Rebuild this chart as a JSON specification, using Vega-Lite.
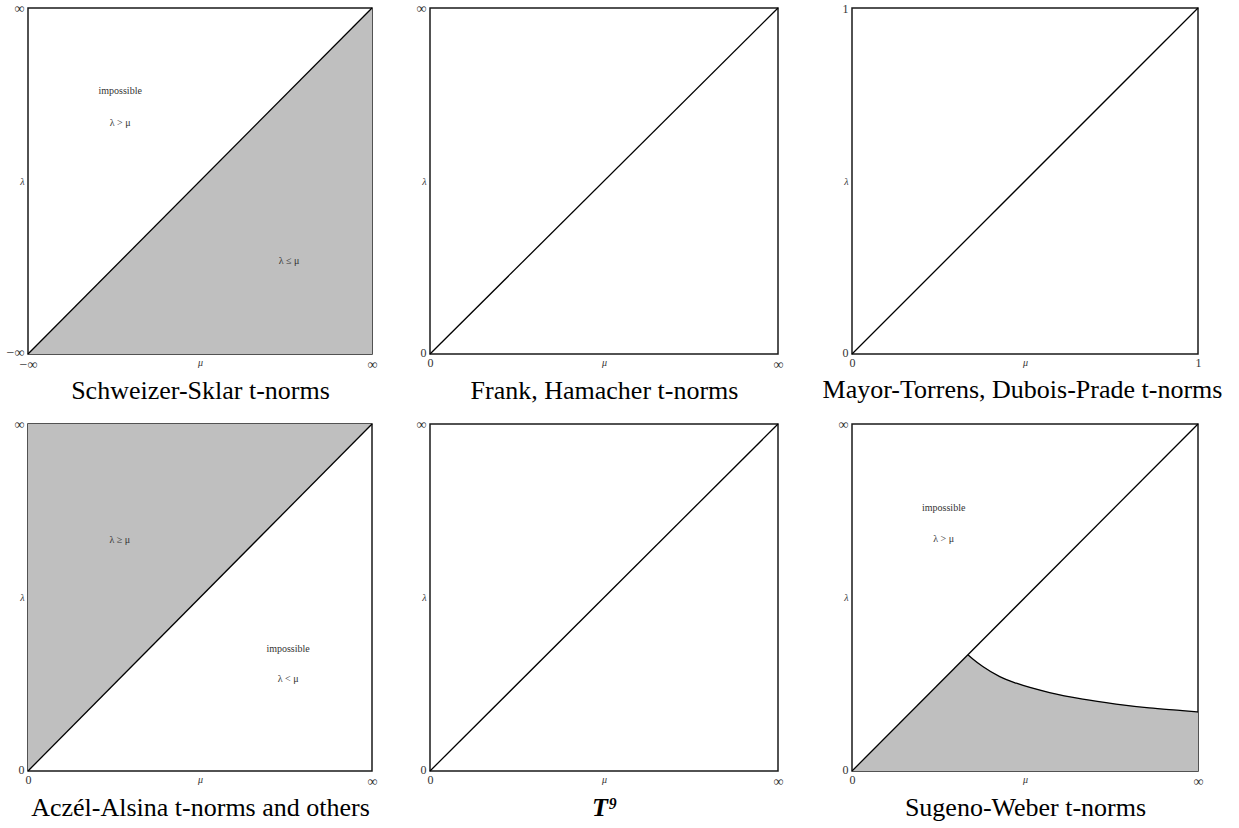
{
  "$schema": "https://vega.github.io/schema/vega-lite/v6.json",
  "background": "white",
  "padding": {"left": 5, "top": 0, "right": 0, "bottom": 0},
  "columns": 3,
  "align": "each",
  "spacing": {"row": 12, "column": 37},
  "config": {
    "view": {"stroke": "#1a1a1a", "strokeWidth": 1.5},
    "axis": {
      "ticks": false, "domain": false, "grid": false,
      "labelFlush": false, "labelOverlap": false,
      "labelFont": "Liberation Serif",
      "labelFontSize": {"condition": [{"test": "datum.value == 0.5", "value": 10}, {"test": "datum.value == 1", "value": 14}], "value": 12},
      "labelFontStyle": {"condition": {"test": "datum.value == 0.5", "value": "italic"}, "value": "normal"},
      "labelColor": "#333", "labelPadding": 3,
      "titleFont": "Liberation Serif", "titleFontSize": 26, "titleFontWeight": "normal",
      "titleColor": "black", "titlePadding": 6
    },
    "axisY": {"labelPadding": 4, "labelOffset": {"condition": {"test": "datum.value == 0", "value": -2}, "value": 0}}
  },
  "datasets": {
    "diag": [{"mu": 0, "lam": 0}, {"mu": 1, "lam": 1}],
    "below": [{"mu": 0, "lam": 0, "base": 0}, {"mu": 1, "lam": 1, "base": 0}],
    "above": [{"mu": 0, "lam": 1, "base": 0}, {"mu": 1, "lam": 1, "base": 1}],
    "sw": [
      {"mu": 0, "lam": 0, "base": 0},
      {"mu": 0.335, "lam": 0.335, "base": 0},
      {"mu": 0.35, "lam": 0.322, "base": 0},
      {"mu": 0.378, "lam": 0.301, "base": 0},
      {"mu": 0.427, "lam": 0.272, "base": 0},
      {"mu": 0.475, "lam": 0.253, "base": 0},
      {"mu": 0.571, "lam": 0.226, "base": 0},
      {"mu": 0.667, "lam": 0.207, "base": 0},
      {"mu": 0.763, "lam": 0.193, "base": 0},
      {"mu": 0.859, "lam": 0.182, "base": 0},
      {"mu": 0.955, "lam": 0.174, "base": 0},
      {"mu": 1, "lam": 0.17, "base": 0}
    ],
    "labels": [
      {"p": 1, "mu": 0.268, "lam": 0.759, "t": "impossible"},
      {"p": 1, "mu": 0.268, "lam": 0.668, "t": "λ > μ"},
      {"p": 1, "mu": 0.759, "lam": 0.268, "t": "λ ≤ μ"},
      {"p": 4, "mu": 0.267, "lam": 0.667, "t": "λ ≥ μ"},
      {"p": 4, "mu": 0.756, "lam": 0.353, "t": "impossible"},
      {"p": 4, "mu": 0.756, "lam": 0.264, "t": "λ < μ"},
      {"p": 6, "mu": 0.265, "lam": 0.758, "t": "impossible"},
      {"p": 6, "mu": 0.265, "lam": 0.669, "t": "λ > μ"}
    ]
  },
  "concat": [
    {
      "width": 344, "height": 346,
      "encoding": {
        "x": {"field": "mu", "type": "quantitative", "scale": {"domain": [0, 1], "nice": false, "zero": false},
              "axis": {"values": [0, 0.5, 1], "labelExpr": "datum.value == 0 ? '−∞' : datum.value == 1 ? '∞' : 'μ'", "title": "Schweizer-Sklar t-norms",
                       "labelFontSize": {"condition": {"test": "datum.value == 0.5", "value": 10}, "value": 14}}},
        "y": {"field": "lam", "type": "quantitative", "scale": {"domain": [0, 1], "nice": false, "zero": false},
              "axis": {"values": [0, 0.5, 1], "labelExpr": "datum.value == 0 ? '−∞' : datum.value == 1 ? '∞' : 'λ'", "title": null,
                       "labelFontSize": {"condition": {"test": "datum.value == 0.5", "value": 10}, "value": 14}}}
      },
      "layer": [
        {"data": {"name": "below"}, "mark": {"type": "area", "color": "#bfbfbf"}, "encoding": {"y2": {"field": "base"}}},
        {"data": {"name": "diag"}, "mark": {"type": "line", "color": "black", "strokeWidth": 1.3}, "encoding": {}},
        {"data": {"name": "labels"}, "transform": [{"filter": "datum.p == 1"}],
         "mark": {"type": "text", "font": "Liberation Serif", "fontSize": 10, "color": "#333"}, "encoding": {"text": {"field": "t"}}}
      ]
    },
    {
      "width": 348, "height": 346,
      "encoding": {
        "x": {"field": "mu", "type": "quantitative", "scale": {"domain": [0, 1], "nice": false, "zero": false},
              "axis": {"values": [0, 0.5, 1], "labelExpr": "datum.value == 0 ? '0' : datum.value == 1 ? '∞' : 'μ'", "title": "Frank, Hamacher t-norms"}},
        "y": {"field": "lam", "type": "quantitative", "scale": {"domain": [0, 1], "nice": false, "zero": false},
              "axis": {"values": [0, 0.5, 1], "labelExpr": "datum.value == 0 ? '0' : datum.value == 1 ? '∞' : 'λ'", "title": null}}
      },
      "layer": [
        {"data": {"name": "diag"}, "mark": {"type": "line", "color": "black", "strokeWidth": 1.3}, "encoding": {}}
      ]
    },
    {
      "width": 346, "height": 346,
      "encoding": {
        "x": {"field": "mu", "type": "quantitative", "scale": {"domain": [0, 1], "nice": false, "zero": false},
              "axis": {"values": [0, 0.5, 1], "labelExpr": "datum.value == 0 ? '0' : datum.value == 1 ? '1' : 'μ'", "title": "Mayor-Torrens, Dubois-Prade t-norms", "titleX": 170, "titlePadding": 8,
                       "labelFontSize": {"condition": {"test": "datum.value == 0.5", "value": 10}, "value": 12}}},
        "y": {"field": "lam", "type": "quantitative", "scale": {"domain": [0, 1], "nice": false, "zero": false},
              "axis": {"values": [0, 0.5, 1], "labelExpr": "datum.value == 0 ? '0' : datum.value == 1 ? '1' : 'λ'", "title": null,
                       "labelFontSize": {"condition": {"test": "datum.value == 0.5", "value": 10}, "value": 12}}}
      },
      "layer": [
        {"data": {"name": "diag"}, "mark": {"type": "line", "color": "black", "strokeWidth": 1.3}, "encoding": {}}
      ]
    },
    {
      "width": 344, "height": 347,
      "encoding": {
        "x": {"field": "mu", "type": "quantitative", "scale": {"domain": [0, 1], "nice": false, "zero": false},
              "axis": {"values": [0, 0.5, 1], "labelExpr": "datum.value == 0 ? '0' : datum.value == 1 ? '∞' : 'μ'", "title": "Aczél-Alsina t-norms and others"}},
        "y": {"field": "lam", "type": "quantitative", "scale": {"domain": [0, 1], "nice": false, "zero": false},
              "axis": {"values": [0, 0.5, 1], "labelExpr": "datum.value == 0 ? '0' : datum.value == 1 ? '∞' : 'λ'", "title": null}}
      },
      "layer": [
        {"data": {"name": "above"}, "mark": {"type": "area", "color": "#bfbfbf"}, "encoding": {"y2": {"field": "base"}}},
        {"data": {"name": "diag"}, "mark": {"type": "line", "color": "black", "strokeWidth": 1.3}, "encoding": {}},
        {"data": {"name": "labels"}, "transform": [{"filter": "datum.p == 4"}],
         "mark": {"type": "text", "font": "Liberation Serif", "fontSize": 10, "color": "#333"}, "encoding": {"text": {"field": "t"}}}
      ]
    },
    {
      "width": 348, "height": 347,
      "encoding": {
        "x": {"field": "mu", "type": "quantitative", "scale": {"domain": [0, 1], "nice": false, "zero": false},
              "axis": {"values": [0, 0.5, 1], "labelExpr": "datum.value == 0 ? '0' : datum.value == 1 ? '∞' : 'μ'", "title": "T⁹", "titleFontStyle": "italic", "titleFontWeight": "bold"}},
        "y": {"field": "lam", "type": "quantitative", "scale": {"domain": [0, 1], "nice": false, "zero": false},
              "axis": {"values": [0, 0.5, 1], "labelExpr": "datum.value == 0 ? '0' : datum.value == 1 ? '∞' : 'λ'", "title": null}}
      },
      "layer": [
        {"data": {"name": "diag"}, "mark": {"type": "line", "color": "black", "strokeWidth": 1.3}, "encoding": {}}
      ]
    },
    {
      "width": 346, "height": 347,
      "encoding": {
        "x": {"field": "mu", "type": "quantitative", "scale": {"domain": [0, 1], "nice": false, "zero": false},
              "axis": {"values": [0, 0.5, 1], "labelExpr": "datum.value == 0 ? '0' : datum.value == 1 ? '∞' : 'μ'", "title": "Sugeno-Weber t-norms"}},
        "y": {"field": "lam", "type": "quantitative", "scale": {"domain": [0, 1], "nice": false, "zero": false},
              "axis": {"values": [0, 0.5, 1], "labelExpr": "datum.value == 0 ? '0' : datum.value == 1 ? '∞' : 'λ'", "title": null}}
      },
      "layer": [
        {"data": {"name": "sw"}, "mark": {"type": "area", "color": "#bfbfbf"}, "encoding": {"y2": {"field": "base"}}},
        {"data": {"name": "sw"}, "transform": [{"filter": "datum.mu >= 0.335"}], "mark": {"type": "line", "color": "black", "strokeWidth": 1.3, "interpolate": "monotone"}, "encoding": {}},
        {"data": {"name": "diag"}, "mark": {"type": "line", "color": "black", "strokeWidth": 1.3}, "encoding": {}},
        {"data": {"name": "labels"}, "transform": [{"filter": "datum.p == 6"}],
         "mark": {"type": "text", "font": "Liberation Serif", "fontSize": 10, "color": "#333"}, "encoding": {"text": {"field": "t"}}}
      ]
    }
  ]
}
